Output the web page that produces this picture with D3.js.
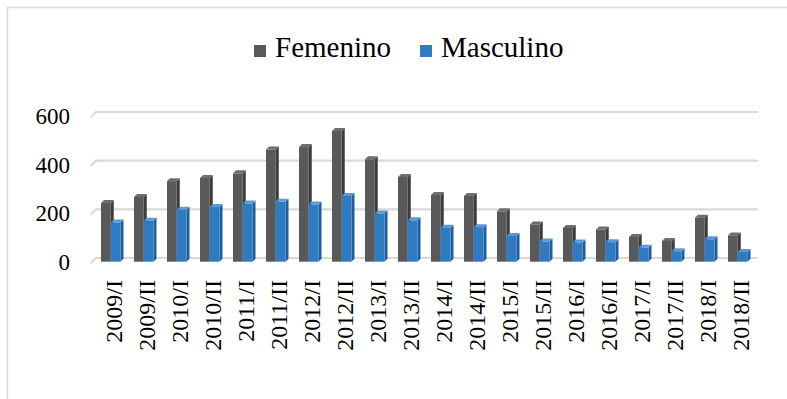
<!DOCTYPE html>
<html>
<head>
<meta charset="utf-8">
<script src="https://cdn.jsdelivr.net/npm/d3@7"></script>
<style>
  html, body { margin: 0; padding: 0; background: #fff; }
  svg { display: block; }
  svg text { font-family: "Liberation Serif", "Tinos", "Times New Roman", "DejaVu Serif", serif; }
</style>
</head>
<body>
<svg id="chart" width="787" height="399"></svg>
<script>
// Semesters on the category axis
const periods = [
  "2009/I", "2009/II", "2010/I", "2010/II", "2011/I", "2011/II",
  "2012/I", "2012/II", "2013/I", "2013/II", "2014/I", "2014/II",
  "2015/I", "2015/II", "2016/I", "2016/II", "2017/I", "2017/II",
  "2018/I", "2018/II"
];
const seriesNames = ["Femenino", "Masculino"];
const femenino = [241, 266, 331, 344, 363, 461, 471, 537, 421, 348,
                  274, 270, 207, 153, 139, 132, 102, 85, 181, 108];
const masculino = [161, 168, 214, 225, 239, 246, 235, 270, 198, 170,
                   140, 142, 106, 83, 79, 80, 57, 43, 92, 40];
const yTicks = [0, 200, 400, 600];

const svg = d3.select("#chart");

// Chart frame
svg.append("path")
  .attr("d", "M7.5,400 L7.5,7.5 L800,7.5")
  .attr("fill", "none")
  .attr("stroke", "#d9d9d9")
  .attr("stroke-width", 1.5);

// Pseudo-3D geometry: back wall vs. front plane of the floor
const wallLeft = 96, wallRight = 758;
const floorDx = -5, floorDy = 5;   // back wall -> front edge offset
const depth = 3;                   // bar depth offset (right/up)

const yWall = d3.scaleLinear().domain([0, 600]).range([258, 112]);
const yFront = d3.scaleLinear().domain([0, 600]).range([261.7, 115.7]);

const x0 = d3.scaleBand().domain(periods).range([95, 755]).padding(0);
const x1 = d3.scaleBand().domain(seriesNames).range([6, 25.5]).padding(0);

// Gridlines with slanted floor/wall edge on the left
const grid = svg.append("g");
yTicks.forEach(t => {
  const y = yWall(t);
  grid.append("path")
    .attr("d", `M${wallLeft + floorDx},${y + floorDy} L${wallLeft},${y} L${wallRight},${y}`)
    .attr("fill", "none")
    .attr("stroke", "#d9d9d9")
    .attr("stroke-width", 2.2);
});

// Y axis labels
const yAxis = d3.axisLeft(yWall).tickValues(yTicks).tickSize(0).tickPadding(0);
const yG = svg.append("g").attr("transform", "translate(70,4)").call(yAxis);
yG.attr("font-family", null);
yG.select(".domain").remove();
yG.selectAll("text")
  .style("font-size", "23px")
  .attr("fill", "#000");

// X axis labels (rotated)
const xAxis = d3.axisBottom(x0).tickSize(0).tickPadding(0);
const xG = svg.append("g").attr("transform", "translate(0,280)").call(xAxis);
xG.attr("font-family", null);
xG.select(".domain").remove();
xG.selectAll(".tick text")
  .style("font-size", "24px")
  .attr("fill", "#000")
  .attr("text-anchor", "end")
  .attr("dy", null)
  .attr("y", 0)
  .attr("transform", "translate(10,0) rotate(-90)");

// Bars
const palette = {
  Femenino:  { front: "#595959", side: "#3c3c3c", top: "#6e6e6e" },
  Masculino: { front: "#2e7bc2", side: "#1d5e9e", top: "#5b9ad6" }
};
const seriesData = [
  { name: "Femenino", values: femenino },
  { name: "Masculino", values: masculino }
];

const barsG = svg.append("g");
seriesData.forEach(s => {
  const c = palette[s.name];
  const g = barsG.append("g");
  s.values.forEach((v, i) => {
    const xl = x0(periods[i]) + x1(s.name);
    const w = x1.bandwidth();
    const yt = yFront(v), yb = yFront(0);
    // side face
    g.append("path")
      .attr("d", `M${xl + w},${yb} L${xl + w + depth},${yb - depth} L${xl + w + depth},${yt - depth} L${xl + w},${yt} Z`)
      .attr("fill", c.side);
    // top face
    g.append("path")
      .attr("d", `M${xl},${yt} L${xl + depth},${yt - depth} L${xl + w + depth},${yt - depth} L${xl + w},${yt} Z`)
      .attr("fill", c.top);
    // front face
    g.append("rect")
      .attr("x", xl).attr("y", yt)
      .attr("width", w).attr("height", yb - yt)
      .attr("fill", c.front);
  });
});

// Legend
const legend = svg.append("g");
const legendItems = [
  { name: "Femenino", x: 254 },
  { name: "Masculino", x: 420 }
];
legendItems.forEach(d => {
  legend.append("rect")
    .attr("x", d.x).attr("y", 45)
    .attr("width", 12).attr("height", 12)
    .attr("fill", palette[d.name].front);
  legend.append("text")
    .attr("x", d.x + 21).attr("y", 57)
    .style("font-size", "29px")
    .attr("fill", "#000")
    .text(d.name);
});
</script>
</body>
</html>
